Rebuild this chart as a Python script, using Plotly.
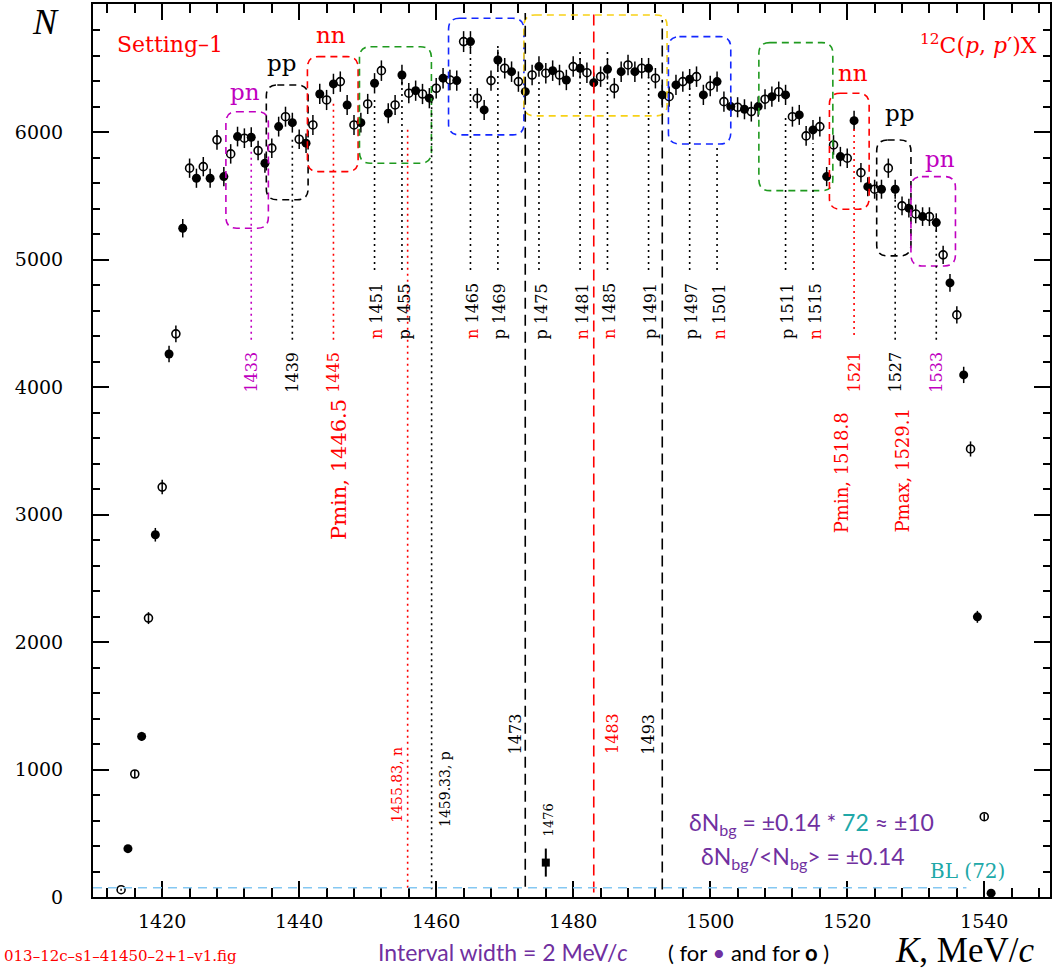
import plotly.graph_objects as go

# ---- data: counts per 2 MeV/c interval, two interleaved binnings ----
k_open = [1414, 1416, 1418, 1420, 1422, 1424, 1426, 1428, 1430, 1432, 1434, 1436, 1438, 1440,
          1442, 1444, 1446, 1448, 1450, 1452, 1454, 1456, 1458, 1460, 1462, 1464, 1466, 1468,
          1470, 1472, 1474, 1476, 1478, 1480, 1482, 1484, 1486, 1488, 1490, 1492, 1494, 1496,
          1498, 1500, 1502, 1504, 1506, 1508, 1510, 1512, 1514, 1516, 1518, 1520, 1522, 1524,
          1526, 1528, 1530, 1532, 1534, 1536, 1538, 1540]
n_open = [57, 965, 2188, 3216, 4418, 5718, 5730, 5940, 5830, 5953, 5856, 5875, 6122, 5945,
          6057, 6253, 6397, 6057, 6222, 6483, 6214, 6306, 6300, 6345, 6410, 6711, 6267, 6405,
          6502, 6397, 6449, 6463, 6449, 6515, 6467, 6436, 6345, 6528, 6502, 6424, 6279, 6397,
          6436, 6363, 6240, 6196, 6162, 6259, 6318, 6122, 5971, 6044, 5900, 5796, 5683, 5553,
          5718, 5422, 5359, 5338, 5038, 4567, 3515, 630]

k_fill = [1415, 1417, 1419, 1421, 1423, 1425, 1427, 1429, 1431, 1433, 1435, 1437, 1439, 1441,
          1443, 1445, 1447, 1449, 1451, 1453, 1455, 1457, 1459, 1461, 1463, 1465, 1467, 1469,
          1471, 1473, 1475, 1477, 1479, 1481, 1483, 1485, 1487, 1489, 1491, 1493, 1495, 1497,
          1499, 1501, 1503, 1505, 1507, 1509, 1511, 1513, 1515, 1517, 1519, 1521, 1523, 1525,
          1527, 1529, 1531, 1533, 1535, 1537, 1539, 1541]
n_fill = [379, 1260, 2842, 4260, 5247, 5639, 5639, 5652, 5966, 5961, 5757, 6044, 6075, 5914,
          6300, 6379, 6214, 6075, 6384, 6149, 6449, 6326, 6267, 6424, 6405, 6711, 6175, 6567,
          6475, 6318, 6515, 6483, 6410, 6502, 6389, 6494, 6475, 6475, 6502, 6293, 6371, 6416,
          6293, 6397, 6201, 6180, 6201, 6279, 6293, 6136, 6018, 5652, 5809, 6091, 5573, 5553,
          5553, 5404, 5338, 5291, 4818, 4096, 2198, 30]

k_single = [1476]
n_single = [270]
err_single = [110]

baseline = 72

x_ticks = [1420, 1440, 1460, 1480, 1500, 1520, 1540]
y_ticks = [0, 1000, 2000, 3000, 4000, 5000, 6000]

# ---- geometry of the frame ----
W, H = 1052, 974
ML, MR, MT, MB = 93, 0, 4, 77
XR = [1409.9, 1549.6]
YR = [0, 7006]
px_per_k = (W - ML - MR) / (XR[1] - XR[0])
px_per_n = (H - MT - MB) / (YR[1] - YR[0])

RED = "#ff0000"
MAG = "#c000c0"
GRN = "#1f9a1f"
BLU = "#1428ff"
YEL = "#f7d117"
PUR = "#7030a0"
TEAL = "#20a8a8"

fig = go.Figure()

err = dict(type="sqrt", color="black", thickness=1.5, width=0)
fig.add_trace(go.Scatter(x=k_open, y=n_open, mode="markers", error_y=err,
                         marker=dict(symbol="circle-open", size=8, color="black",
                                     line=dict(width=1.6, color="black")),
                         showlegend=False, cliponaxis=True))
fig.add_trace(go.Scatter(x=k_fill, y=n_fill, mode="markers", error_y=err,
                         marker=dict(symbol="circle", size=9, color="black"),
                         showlegend=False, cliponaxis=True))
fig.add_trace(go.Scatter(x=k_single, y=n_single, mode="markers",
                         error_y=dict(type="data", array=err_single, color="black",
                                      thickness=2, width=0),
                         marker=dict(symbol="square", size=8, color="black"),
                         showlegend=False))

shapes = []


def rbox(x0, x1, y0, y1, color, r=11):
    rx, ry = r / px_per_k, r / px_per_n
    path = (f"M {x0+rx},{y1} L {x1-rx},{y1} Q {x1},{y1} {x1},{y1-ry} "
            f"L {x1},{y0+ry} Q {x1},{y0} {x1-rx},{y0} L {x0+rx},{y0} "
            f"Q {x0},{y0} {x0},{y0+ry} L {x0},{y1-ry} Q {x0},{y1} {x0+rx},{y1} Z")
    shapes.append(dict(type="path", path=path, xref="x", yref="y",
                       line=dict(color=color, width=1.6, dash="7px,5px")))


def vline(x, y0, y1, color, dash="2px,4px", width=1.6):
    shapes.append(dict(type="line", xref="x", yref="y", x0=x, x1=x, y0=y0, y1=y1,
                       line=dict(color=color, width=width, dash=dash)))


# grouping boxes
rbox(1429.3, 1435.5, 5247, 6161, MAG)
rbox(1435.2, 1441.3, 5470, 6371, "black")
rbox(1441.2, 1448.6, 5691, 6593, RED)
rbox(1448.8, 1459.3, 5757, 6671, GRN)
rbox(1461.8, 1472.8, 5979, 6894, BLU)
rbox(1472.8, 1493.7, 6128, 6920, YEL)
rbox(1493.9, 1503.0, 5908, 6750, BLU)
rbox(1507.1, 1517.9, 5542, 6703, GRN)
rbox(1517.4, 1523.2, 5396, 6306, RED)
rbox(1524.3, 1529.3, 5030, 5939, "black")
rbox(1529.3, 1535.8, 4951, 5652, MAG)

# marker lines for the pair sums
vline(1433, 4371, 5861, MAG)
vline(1439, 4371, 5950, "black")
vline(1445, 4371, 6250, RED)
vline(1521, 4410, 6050, RED)
vline(1527, 4371, 5510, "black")
vline(1533, 4371, 5270, "black")

b_lines = [(1451, 6253), (1455, 6410), (1465, 6669), (1469, 6700), (1475, 6410),
           (1481, 6630), (1485, 6630), (1491, 6434), (1497, 6410), (1501, 5900),
           (1511, 6120), (1515, 5914)]
for xb, top in b_lines:
    vline(xb, 4920, top, "black")

vline(1455.83, 72, 6049, RED)
vline(1459.33, 60, 6253, "black")
vline(1473, 80, 6936, "black", dash="11px,6px")
vline(1483, 35, 6933, RED, dash="11px,6px")
vline(1493, 58, 6881, "black", dash="11px,6px")

# background level
shapes.append(dict(type="line", xref="x", yref="y", x0=XR[0], x1=1537.4,
                   y0=baseline, y1=baseline,
                   line=dict(color="#85c8f2", width=1.6, dash="9px,6px")))

ann = []
SERIF = "DejaVu Serif"


def rot(x, y, text, color="black", size=16):
    ann.append(dict(x=x, y=y, xref="x", yref="y", text=text, showarrow=False,
                    textangle=-90, xanchor="center", yanchor="middle",
                    font=dict(family=SERIF, size=size, color=color)))


rot(1433, 4116, "1433", MAG)
rot(1439, 4116, "1439")
rot(1445, 4116, "1445", RED)
rot(1521, 4116, "1521", RED)
rot(1527, 4116, "1527")
rot(1533, 4116, "1533", MAG)

rot(1445.9, 3355, "Pmin, 1446.5", RED, 21)
rot(1519.2, 3330, "Pmin, 1518.8", RED, 18)
rot(1528.0, 3346, "Pmax, 1529.1", RED, 18)

n_side = {1451, 1465, 1481, 1485, 1501, 1515}
for xb, _ in b_lines:
    tag = f"<span style='color:{RED}'>n</span>" if xb in n_side else "p"
    rot(xb + 0.3, 4594, f"{tag} {xb}")

rot(1454.15, 882, "1455.83, n", RED, 14)
rot(1461.2, 851, "1459.33, p", "black", 14)
rot(1471.6, 1281, "1473")
rot(1485.7, 1281, "1483", RED)
rot(1491.06, 1281, "1493")
rot(1476.45, 608, "1476", "black", 13)


def txt(x, y, text, color, size, family=SERIF, xref="x", yref="y", xanchor="center"):
    ann.append(dict(x=x, y=y, xref=xref, yref=yref, text=text, showarrow=False,
                    xanchor=xanchor, yanchor="middle",
                    font=dict(family=family, size=size, color=color)))


txt(1432.1, 6312, "pn", MAG, 23)
txt(1437.4, 6541, "pp", "black", 23)
txt(1444.7, 6763, "nn", RED, 23)
txt(1520.9, 6463, "nn", RED, 23)
txt(1527.7, 6149, "pp", "black", 23)
txt(1533.6, 5788, "pn", MAG, 23)

txt(1421.1, 6685, "Setting\u20131", RED, 22)
txt(1539.2, 6692, "<sup>12</sup>C(<i>p</i>, <i>p</i>\u2032)X", RED, 22)
txt(1537.6, 207, "BL (72)", TEAL, 20)

SANS = "Lato"
txt(1514.8, 578,
    f"\u03b4N<sub>bg</sub> = \u00b10.14 * <span style='color:{TEAL}'>72</span> \u2248 \u00b110",
    PUR, 23, SANS)
txt(1513.6, 312, "\u03b4N<sub>bg</sub>/&lt;N<sub>bg</sub>&gt; = \u00b10.14", PUR, 23, SANS)

pw, ph = W - ML - MR, H - MT - MB
txt((45 - ML) / pw, 1 - (22 - MT) / ph, "<i>N</i>", "black", 36, "Liberation Serif",
    "paper", "paper")
txt((967 - ML) / pw, -(950 - (H - MB)) / ph, "<i>K</i>, MeV/<i>c</i>", "black", 35,
    "Liberation Serif", "paper", "paper")
txt((504 - ML) / pw, -(952 - (H - MB)) / ph, "Interval width = 2 MeV/<i>c</i>",
    PUR, 23, SANS, "paper", "paper")
txt((750 - ML) / pw, -(952 - (H - MB)) / ph,
    f"( for <span style='color:{PUR}'>\u2022</span> and for <b>o</b> )",
    "black", 22, SANS, "paper", "paper")
txt((2 - ML) / pw, -(956 - (H - MB)) / ph, "013\u201312c\u2013s1\u201341450\u20132+1\u2013v1.fig",
    RED, 15, SERIF, "paper", "paper", xanchor="left")

axis_common = dict(showline=True, linecolor="black", linewidth=2, mirror="ticks",
                   ticks="inside", ticklen=16, tickwidth=1.5, tickcolor="black",
                   showgrid=False, zeroline=False,
                   tickfont=dict(family=SERIF, size=19, color="black"))

fig.update_layout(
    width=W, height=H,
    margin=dict(l=ML, r=MR, t=MT, b=MB),
    paper_bgcolor="white", plot_bgcolor="white",
    shapes=shapes, annotations=ann,
    xaxis=dict(range=XR, tickvals=x_ticks, ticklabelstandoff=6,
               minor=dict(dtick=4, tick0=1420, ticks="inside", ticklen=9,
                          tickcolor="black", tickwidth=1.5),
               **axis_common),
    yaxis=dict(range=YR, tickvals=y_ticks, ticklabelstandoff=24,
               minor=dict(dtick=200, tick0=0, ticks="inside", ticklen=7,
                          tickcolor="black", tickwidth=1.5),
               **axis_common),
)

fig.write_html("out.html")
